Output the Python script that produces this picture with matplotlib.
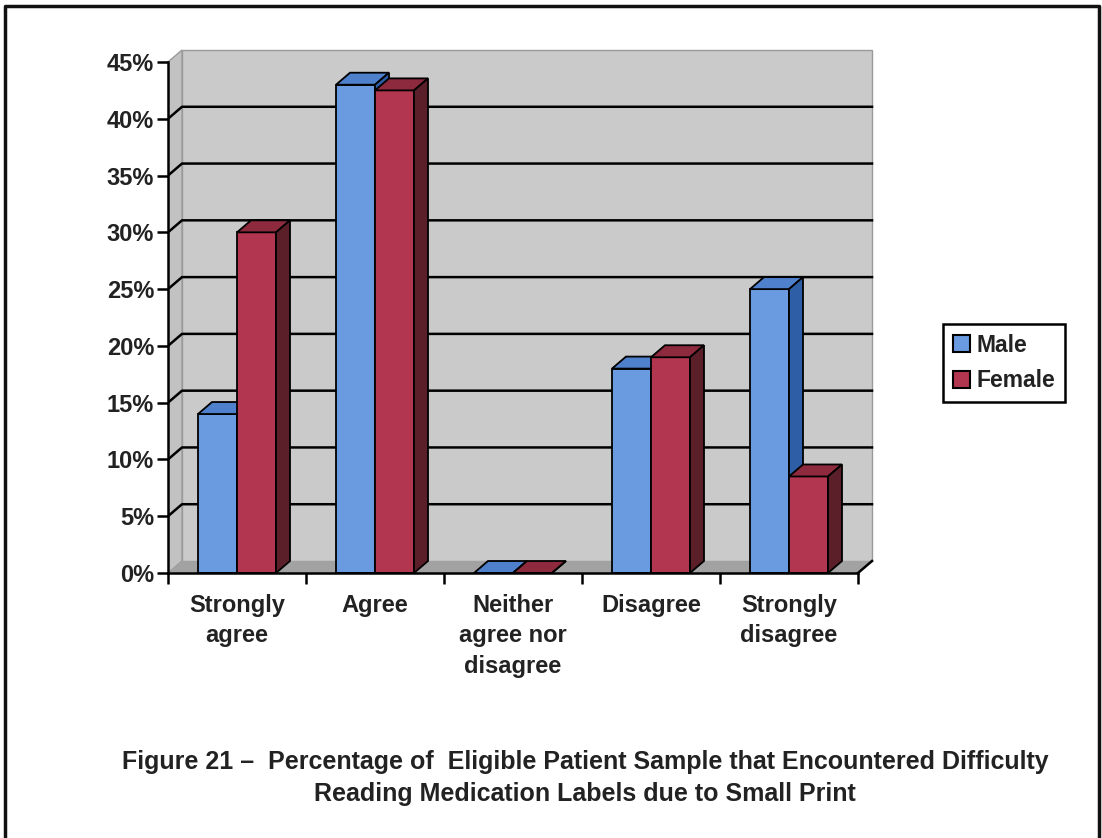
import matplotlib.pyplot as plt
from matplotlib.patches import Polygon, Patch
from matplotlib.lines import Line2D
import numpy as np

plt.rcParams["font.family"] = ["Liberation Sans", "DejaVu Sans"]
plt.rcParams["font.weight"] = "bold"

categories = ["Strongly\nagree", "Agree", "Neither\nagree nor\ndisagree",
              "Disagree", "Strongly\ndisagree"]
male = [14.0, 43.0, 0.0, 18.0, 25.0]
female = [30.0, 42.5, 0.0, 19.0, 8.5]
yticks = [0, 5, 10, 15, 20, 25, 30, 35, 40, 45]
title = ("Figure 21 \u2013  Percentage of  Eligible Patient Sample that Encountered Difficulty\n"
         "Reading Medication Labels due to Small Print")

blue = ("#6a9ae0", "#4f80cc", "#2e5ea6")    # front, top, side
red = ("#b2364f", "#8e2a3d", "#5a1f28")
text_c = "#222222"

W, H = 1102, 838
fig = plt.figure(figsize=(W / 100, H / 100), dpi=100)

# plot area in pixels: x0 at 168, value 0 at y=573
ppc = 138.0        # pixels per category
ppv = 511 / 45.0   # pixels per percent
x_lo, x_hi = -0.5, 4.62
y_lo, y_hi = 0, 47.0
ax = fig.add_axes([168 / W, (H - 573) / H,
                   (x_hi - x_lo) * ppc / W, (y_hi - y_lo) * ppv / H])
ax.set_xlim(x_lo, x_hi)
ax.set_ylim(y_lo, y_hi)
ax.patch.set_alpha(0)

# depth offset of the 3-D box, in data units
dx = 14 / ppc
dy = 12 / ppv
x0, x1 = -0.5, 4.5
ymax = yticks[-1]

# walls and floor
ax.add_patch(Polygon([(x0 + dx, dy), (x1 + dx, dy), (x1 + dx, ymax + dy), (x0 + dx, ymax + dy)],
                     closed=True, fc="#cacaca", ec="#9a9a9a", lw=1, zorder=0))
ax.add_patch(Polygon([(x0, 0), (x0 + dx, dy), (x0 + dx, ymax + dy), (x0, ymax)],
                     closed=True, fc="#c2c2c2", ec="#9a9a9a", lw=1, zorder=0))
for v in yticks[1:-1]:
    ax.plot([x0, x0 + dx, x1 + dx], [v, v + dy, v + dy], color="black", lw=1.8, zorder=1)
ax.add_patch(Polygon([(x0, 0), (x1, 0), (x1 + dx, dy), (x0 + dx, dy)],
                     closed=True, fc="#a2a2a2", ec="none", zorder=2))
ax.plot([x1, x1 + dx], [0, dy], color="black", lw=1.8, zorder=2)

# bars with top and side faces
centers = np.arange(len(categories))
w = 39 / ppc
for vals, cols, off, z in [(male, blue, -w, 3), (female, red, 0, 4)]:
    xs = centers + off
    ax.bar(xs, vals, w, align="edge", color=cols[0], edgecolor="black", lw=1.3, zorder=z)
    for x, v in zip(xs, vals):
        ax.add_patch(Polygon([(x, v), (x + w, v), (x + w + dx, v + dy), (x + dx, v + dy)],
                             closed=True, fc=cols[1], ec="black", lw=1.3, zorder=z))
        ax.add_patch(Polygon([(x + w, 0), (x + w + dx, dy), (x + w + dx, v + dy), (x + w, v)],
                             closed=True, fc=cols[2], ec="black", lw=1.3, zorder=z))

# axes lines and ticks
for s in ["top", "right"]:
    ax.spines[s].set_visible(False)
ax.spines["left"].set_bounds(0, ymax)
ax.spines["bottom"].set_bounds(x0, x1)
for s in ["left", "bottom"]:
    ax.spines[s].set_linewidth(1.8)
    ax.spines[s].set_zorder(5)
ax.set_yticks(yticks, [f"{v}%" for v in yticks])
ax.set_xticks(centers, categories)
ax.set_xticks(np.arange(x0, x1 + 0.01, 1), minor=True)
ax.tick_params(axis="y", length=8, width=1.8, pad=2, labelsize=17, labelcolor=text_c)
ax.tick_params(axis="x", which="major", length=0, pad=15, labelsize=17, labelcolor=text_c)
ax.tick_params(axis="x", which="minor", length=8, width=1.8)
for lab in ax.get_xticklabels():
    lab.set_linespacing(1.42)
    lab.set_fontweight("bold")
for lab in ax.get_yticklabels():
    lab.set_fontweight("bold")

# legend
handles = [Patch(fc=blue[0], ec="black", lw=1.5, label="Male"),
           Patch(fc=red[0], ec="black", lw=1.5, label="Female")]
leg = fig.legend(handles=handles, loc="center", bbox_to_anchor=(1004 / W, 1 - 363 / H),
                 fancybox=False, edgecolor="black", framealpha=1, fontsize=16.5,
                 handlelength=0.75, handleheight=0.75, handletextpad=0.3,
                 labelspacing=0.55, borderpad=0.42, borderaxespad=0)
leg.get_frame().set_linewidth(1.8)
for t in leg.get_texts():
    t.set_color(text_c)
    t.set_fontweight("bold")

# caption
fig.text(585 / W, 1 - 778 / H, title, ha="center", va="center", fontsize=18,
         fontweight="bold", color=text_c, linespacing=1.38)

# page frame
bx0, bx1, by0 = 5 / W, 1099 / W, 1 - 6 / H
fig.add_artist(Line2D([bx0, bx0, bx1, bx1], [0, by0, by0, 0], color="#111111", lw=2.5,
                      transform=fig.transFigure))

fig.savefig("out.png", dpi=100)
